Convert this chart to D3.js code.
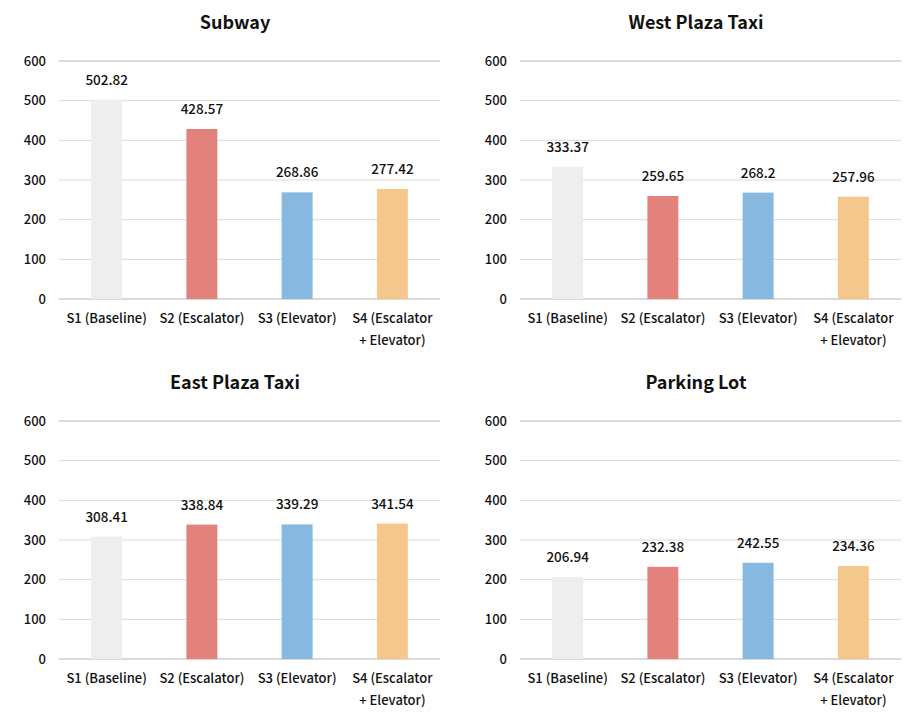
<!DOCTYPE html>
<html>
<head>
<meta charset="utf-8">
<script src="https://cdn.jsdelivr.net/npm/d3@7"></script>
<style>
    body { margin: 0; background: #fff; }
    svg text { font-family: "Noto Sans CJK KR", "Noto Sans", sans-serif; }
</style>
</head>
<body>
<div id="chart"></div>
<script>
// Data
const scenarios = ['S1 (Baseline)', 'S2 (Escalator)', 'S3 (Elevator)', 'S4 (Escalator + Elevator)'];
const titles = ['Subway', 'West Plaza Taxi', 'East Plaza Taxi', 'Parking Lot'];
const subway = [502.82, 428.57, 268.86, 277.42];
const westPlazaTaxi = [333.37, 259.65, 268.2, 257.96];
const eastPlazaTaxi = [308.41, 338.84, 339.29, 341.54];
const parkingLot = [206.94, 232.38, 242.55, 234.36];
const yTicks = [0, 100, 200, 300, 400, 500, 600];
const colors = ['#eeeeee', '#e3827c', '#87b8df', '#f4c88d'];

const series = [subway, westPlazaTaxi, eastPlazaTaxi, parkingLot];

const width = 913, height = 718;
const svg = d3.select('#chart').append('svg')
    .attr('width', width)
    .attr('height', height);

// panel origins (left/right, top/bottom)
const panels = [
    { x: 0, y: 0 }, { x: 461, y: 0 },
    { x: 0, y: 360 }, { x: 461, y: 360 }
];

// plot area inside a panel
const plotLeft = 59, plotRight = 440, plotTop = 61, plotBottom = 299;

const x = d3.scaleBand()
    .domain(scenarios)
    .range([plotLeft, plotRight])
    .paddingInner(0.675)
    .paddingOuter(0.3375);

const y = d3.scaleLinear()
    .domain([0, 600])
    .range([plotBottom, plotTop]);

panels.forEach((p, i) => {
    const g = svg.append('g').attr('transform', `translate(${p.x},${p.y})`);

    // title
    g.append('text')
        .attr('x', 235)
        .attr('y', 29)
        .attr('text-anchor', 'middle')
        .attr('font-size', 18)
        .attr('font-weight', 'bold')
        .attr('fill', '#111')
        .text(titles[i]);

    // gridlines
    g.append('g').selectAll('line')
        .data(yTicks)
        .enter()
        .append('line')
        .attr('x1', plotLeft)
        .attr('x2', plotRight)
        .attr('y1', d => y(d))
        .attr('y2', d => y(d))
        .attr('stroke', '#d9d9d9')
        .attr('stroke-width', d => (d === 0 || d === 600) ? 2 : 1);

    // y axis labels
    const yAxis = d3.axisLeft(y).tickValues(yTicks).tickSize(0).tickPadding(13);
    const ya = g.append('g')
        .attr('transform', `translate(${plotLeft},0)`)
        .call(yAxis);
    ya.select('.domain').remove();
    ya.selectAll('text')
        .attr('font-size', 13)
        .attr('font-weight', 500)
        .attr('fill', '#111');

    // bars
    g.append('g').selectAll('rect')
        .data(series[i])
        .enter()
        .append('rect')
        .attr('x', (d, j) => x(scenarios[j]))
        .attr('y', d => y(d))
        .attr('width', x.bandwidth())
        .attr('height', d => y(0) - y(d))
        .attr('fill', (d, j) => colors[j]);

    // value labels
    g.append('g').selectAll('text')
        .data(series[i])
        .enter()
        .append('text')
        .attr('x', (d, j) => x(scenarios[j]) + x.bandwidth() / 2)
        .attr('y', d => y(d) - 15)
        .attr('text-anchor', 'middle')
        .attr('font-size', 13.5)
        .attr('font-weight', 500)
        .attr('fill', '#111')
        .text(d => d);

    // x labels, wrap the long one
    const xl = g.append('g').selectAll('text')
        .data(scenarios)
        .enter()
        .append('text')
        .attr('x', d => x(d) + x.bandwidth() / 2)
        .attr('y', 323)
        .attr('text-anchor', 'middle')
        .attr('font-size', 13)
        .attr('font-weight', 500)
        .attr('fill', '#111');
    xl.each(function(d) {
        const t = d3.select(this);
        const parts = d.indexOf(' + ') > 0 ? [d.split(' + ')[0], '+ ' + d.split(' + ')[1]] : [d];
        parts.forEach((s, k) => {
            t.append('tspan')
                .attr('x', t.attr('x'))
                .attr('dy', k === 0 ? 0 : 22)
                .text(s);
        });
    });
});
</script>
</body>
</html>
